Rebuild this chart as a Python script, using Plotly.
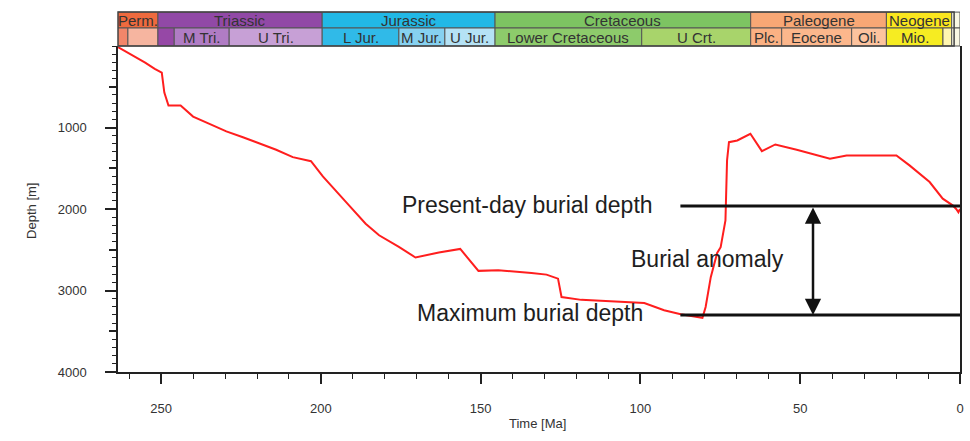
import plotly.graph_objects as go

# ---------------- data ----------------
time_ma = [263.5, 259, 255, 252, 249.8, 249, 247.7, 243.9, 240, 234.7, 229.6, 224.4, 219.2,
           214, 208.8, 203.1, 199.4, 195.8, 191.2, 186, 181.8, 175.6, 170.4, 163.1, 156.4,
           150.7, 144.5, 134.1, 129.4, 125.8, 124.7, 118.5, 104, 98.8, 92.6, 87.4, 80.6,
           79.6, 78, 76, 74.9, 73.4, 72.9, 72.3, 69.7, 65.6, 62, 57.8, 51.1, 40.7, 35.5,
           19.9, 15.8, 9.5, 5.4, 2.3, 1.2, 0.5, 0]
depth_m = [15, 110, 204, 280, 327, 571, 731, 731, 866, 958, 1048, 1119, 1200,
           1273, 1364, 1413, 1600, 1752, 1955, 2180, 2322, 2465, 2595, 2534, 2490,
           2759, 2751, 2784, 2805, 2855, 3080, 3115, 3141, 3153, 3243, 3292, 3335,
           3203, 2836, 2540, 2469, 2140, 1404, 1180, 1159, 1077, 1290, 1208, 1273, 1383, 1343,
           1343, 1465, 1669, 1873, 1955, 2000, 2040, 2000]

present_depth = 1963
max_depth = 3300
ref_line_x = [87.5, 0]
arrow_x = 46

y_major_ticks = [1000, 2000, 3000, 4000]
y_mid_ticks = [500, 1500, 2500, 3500]
x_major_ticks = [250, 200, 150, 100, 50, 0]

# periods (top row): name, start Ma, end Ma, colour
period_names = ["Perm.", "Triassic", "Jurassic", "Cretaceous", "Paleogene", "Neogene", ""]
period_start = [270.6, 251.0, 199.6, 145.5, 65.5, 23.03, 2.6]
period_end = [251.0, 199.6, 145.5, 65.5, 23.03, 2.6, 0]
period_colors = ["#EE6A3E", "#9149A6", "#22B8E6", "#7DC462", "#F8A775", "#FBE61E", "#FAF8E4"]

# epochs (bottom row)
epoch_names = ["", "", "", "M Tri.", "U Tri.", "L Jur.", "M Jur.", "U Jur.",
               "Lower Cretaceous", "U Crt.", "Plc.", "Eocene", "Oli.", "Mio.", "", ""]
epoch_start = [270.6, 260.4, 251.0, 245.9, 228.7, 199.6, 175.6, 161.2,
               145.5, 99.6, 65.5, 55.8, 33.9, 23.03, 5.33, 2.6]
epoch_end = [260.4, 251.0, 245.9, 228.7, 199.6, 175.6, 161.2, 145.5,
             99.6, 65.5, 55.8, 33.9, 23.03, 5.33, 2.6, 0]
epoch_colors = ["#F2866A", "#F6B5A0", "#9648A6", "#B07CC4", "#C7A0D6", "#30BAE8", "#86D1F0",
                "#B5E2F5", "#8DCB6B", "#A8D46B", "#FBB183", "#FCB78C", "#FDC39E", "#F6EC22",
                "#FFF6B0", "#FAF8E4"]

x_range = [263.5, 0]
y_range = [4000, 0]

fig = go.Figure()

fig.add_trace(go.Scatter(x=time_ma, y=depth_m, mode="lines",
                         line=dict(color="#FF1E1E", width=2), showlegend=False,
                         hoverinfo="skip"))
fig.add_trace(go.Scatter(x=ref_line_x, y=[present_depth, present_depth], mode="lines",
                         line=dict(color="#111111", width=3), showlegend=False))
fig.add_trace(go.Scatter(x=ref_line_x, y=[max_depth, max_depth], mode="lines",
                         line=dict(color="#111111", width=3), showlegend=False))
# invisible trace to carry the secondary (mid-tick) axis
fig.add_trace(go.Scatter(x=[x_range[0]], y=[y_range[0]], yaxis="y2", mode="markers",
                         marker=dict(opacity=0), showlegend=False, hoverinfo="skip"))

shapes = []
annotations = []
Y0, YM, Y1 = 1.0, 1.0552, 1.104
for n, s, e, c in zip(period_names, period_start, period_end, period_colors):
    shapes.append(dict(type="rect", xref="x", yref="paper", x0=s, x1=e, y0=YM, y1=Y1,
                       fillcolor=c, line=dict(color="#555555", width=1), layer="above"))
    if n:
        xc = (min(s, x_range[0]) + e) / 2
        annotations.append(dict(text=n, xref="x", yref="paper", x=xc, y=(YM + Y1) / 2,
                                showarrow=False, font=dict(size=15, color="#333333"),
                                xanchor="center", yanchor="middle"))
for n, s, e, c in zip(epoch_names, epoch_start, epoch_end, epoch_colors):
    shapes.append(dict(type="rect", xref="x", yref="paper", x0=s, x1=e, y0=Y0, y1=YM,
                       fillcolor=c, line=dict(color="#555555", width=1), layer="above"))
    if n:
        xc = (min(s, x_range[0]) + e) / 2
        annotations.append(dict(text=n, xref="x", yref="paper", x=xc, y=(Y0 + YM) / 2,
                                showarrow=False, font=dict(size=15, color="#333333"),
                                xanchor="center", yanchor="middle"))

# outer frame of the time scale
shapes.append(dict(type="rect", xref="paper", yref="paper", x0=0, x1=0.993, y0=Y0, y1=Y1,
                   line=dict(color="#444444", width=1.5), layer="above"))

# double headed arrow
annotations.append(dict(x=arrow_x, y=max_depth, ax=arrow_x, ay=present_depth,
                        xref="x", yref="y", axref="x", ayref="y", text="",
                        showarrow=True, arrowhead=2, startarrowhead=2, arrowside="end+start",
                        arrowsize=1.3, startarrowsize=1.3, arrowwidth=2.5, arrowcolor="#111111"))

txt_font = dict(size=23, color="#1e1e1e", family="Arial")
annotations.append(dict(text="Present-day burial depth", x=135.2, y=1950, xref="x", yref="y",
                        showarrow=False, font=txt_font))
annotations.append(dict(text="Maximum burial depth", x=134.6, y=3276, xref="x", yref="y",
                        showarrow=False, font=txt_font))
annotations.append(dict(text="Burial anomaly", x=79.1, y=2613, xref="x", yref="y",
                        showarrow=False, font=txt_font))

# axis titles
annotations.append(dict(text="Depth [m]", xref="paper", yref="paper", x=-0.1135, y=0.494,
                        textangle=-90, showarrow=False, font=dict(size=13, color="#333333")))
annotations.append(dict(text="Time [Ma]", xref="paper", yref="paper", x=0.4988, y=-0.187,
                        showarrow=False, font=dict(size=13, color="#333333")))

fig.update_layout(
    width=970, height=441,
    margin=dict(l=118, r=6, t=46, b=69),
    paper_bgcolor="white", plot_bgcolor="white",
    font=dict(family="Arial", color="#333333"),
    shapes=shapes, annotations=annotations,
    showlegend=False,
    yaxis2=dict(overlaying="y", side="left", range=y_range, tickvals=y_mid_ticks,
                ticks="outside", ticklen=8, tickwidth=1.5, tickcolor="#222222",
                showticklabels=False, showline=False, showgrid=False, zeroline=False),
)
fig.update_xaxes(range=x_range, tickvals=x_major_ticks,
                 ticks="outside", ticklen=10, tickwidth=1.5, tickcolor="#222222",
                 showline=True, linecolor="#222222", linewidth=1.5, showgrid=False,
                 zeroline=False, tickfont=dict(size=13, color="#333333"),
                 ticklabelstandoff=14,
                 minor=dict(dtick=10, ticks="outside", ticklen=5, tickwidth=1,
                            tickcolor="#222222", showgrid=False))
fig.update_layout(yaxis=dict(range=y_range, tickvals=y_major_ticks,
                 ticks="outside", ticklen=11, tickwidth=1.5, tickcolor="#222222",
                 showline=True, linecolor="#222222", linewidth=1.5, mirror=True,
                 showgrid=False, zeroline=False, tickfont=dict(size=13, color="#333333"),
                 ticklabelstandoff=16,
                 minor=dict(dtick=100, ticks="outside", ticklen=4, tickwidth=1,
                            tickcolor="#222222", showgrid=False)))

fig.write_html("out.html")
